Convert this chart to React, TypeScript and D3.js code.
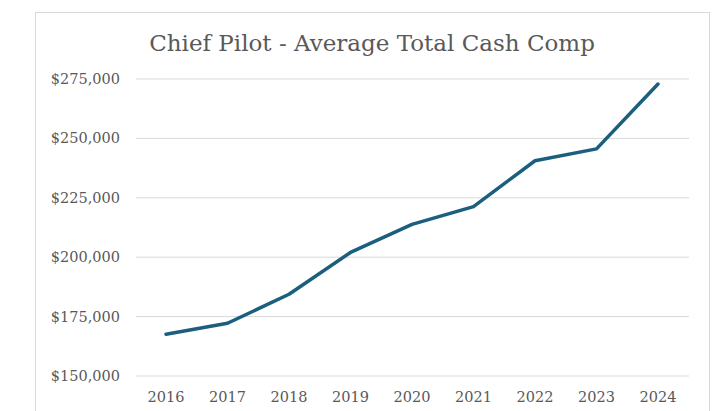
import React from 'react';
import * as d3 from 'd3';

const years = ['2016', '2017', '2018', '2019', '2020', '2021', '2022', '2023', '2024'];
const avgCashComp = [167600, 172200, 184400, 202000, 213800, 221300, 240600, 245600, 272900];
const yTicks = [150000, 175000, 200000, 225000, 250000, 275000];

const W = 719;
const H = 411;
const FONT = "'DejaVu Serif', Georgia, serif";

const App: React.FC = () => {
    const x = d3.scalePoint<string>().domain(years).range([166, 658]);
    const y = d3.scaleLinear().domain([150000, 275000]).range([376, 79]);
    const fmt = d3.format('$,.0f');

    const line = d3.line<number>()
        .x((d, i) => x(years[i]) as number)
        .y(d => y(d));

    return (
        <svg width={W} height={H} style={{ position: 'absolute', left: 0, top: 0, background: '#fff' }}>
            <rect x={35.5} y={12.5} width={674} height={410} fill="#fff" stroke="#d9d9d9" strokeWidth={1} />
            <text x={372} y={51} textAnchor="middle" fontFamily={FONT} fontSize={23} fill="#595959">
                Chief Pilot - Average Total Cash Comp
            </text>
            {yTicks.map(t => (
                <g key={t}>
                    <line x1={136} x2={689} y1={y(t)} y2={y(t)} stroke="#d9d9d9" strokeWidth={1} />
                    <text x={120} y={y(t)} dy="0.35em" textAnchor="end" fontFamily={FONT} fontSize={14.5} fill="#595959">
                        {fmt(t)}
                    </text>
                </g>
            ))}
            {years.map(yr => (
                <text key={yr} x={x(yr)} y={397} dy="0.35em" textAnchor="middle" fontFamily={FONT} fontSize={14.5} fill="#595959">
                    {yr}
                </text>
            ))}
            <path d={line(avgCashComp) || ''} fill="none" stroke="#1b5e7e" strokeWidth={3.5} strokeLinejoin="round" strokeLinecap="round" />
        </svg>
    );
};

export default App;
